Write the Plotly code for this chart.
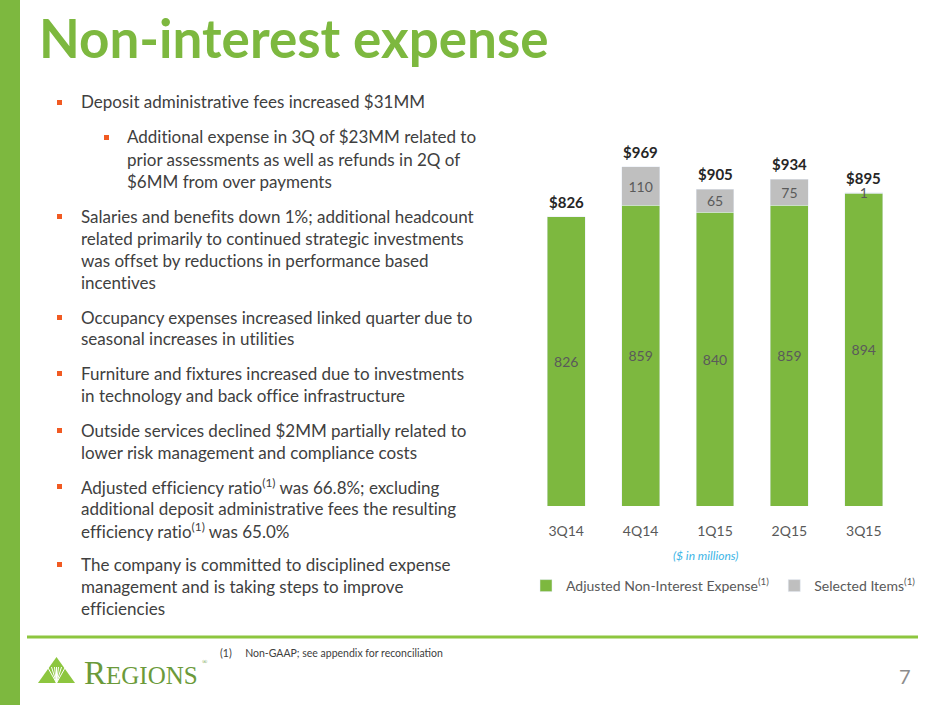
import plotly.graph_objects as go

# data
quarters = ["3Q14", "4Q14", "1Q15", "2Q15", "3Q15"]
adjusted_expense = [826, 859, 840, 859, 894]
selected_items = [None, 110, 65, 75, 1]
totals = [a + (s or 0) for a, s in zip(adjusted_expense, selected_items)]

bullets = [
    (0, ["Deposit administrative fees increased $31MM"]),
    (1, ["Additional expense in 3Q of $23MM related to",
         "prior assessments as well as refunds in 2Q of",
         "$6MM from over payments"]),
    (0, ["Salaries and benefits down 1%; additional headcount",
         "related primarily to continued strategic investments",
         "was offset by reductions in performance based",
         "incentives"]),
    (0, ["Occupancy expenses increased linked quarter due to",
         "seasonal increases in utilities"]),
    (0, ["Furniture and fixtures increased due to investments",
         "in technology and back office infrastructure"]),
    (0, ["Outside services declined $2MM partially related to",
         "lower risk management and compliance costs"]),
    (0, ["Adjusted efficiency ratio<sup>(1)</sup> was 66.8%; excluding",
         "additional deposit administrative fees the resulting",
         "efficiency ratio<sup>(1)</sup> was 65.0%"]),
    (0, ["The company is committed to disciplined expense",
         "management and is taking steps to improve",
         "efficiencies"]),
]
bullet_tops = [102, 137, 216, 317, 373, 430, 486, 564]

W, H = 940, 705
GREEN = "#7DB83F"
LIGHT_GREEN = "#8DC63F"
GRAY = "#BFBFBF"
TEXT = "#404040"
ORANGE = "#F15A22"
FONT = "Lato"
NO_LIGA = '<span style="font-variant-ligatures:none">%s</span>'


def px(x):
    return x / W


def py(y):
    return 1 - y / H


def note(x, y, text, size, color, family=FONT, xanchor="left"):
    return dict(x=px(x), y=py(y), xref="paper", yref="paper",
                xanchor=xanchor, yanchor="middle", text=text, showarrow=False,
                font=dict(family=family, size=size, color=color))


fig = go.Figure()
fig.add_trace(go.Bar(
    x=quarters, y=adjusted_expense, name="Adjusted Non-Interest Expense<sup>(1)</sup>",
    marker_color=GREEN, text=adjusted_expense, textposition="inside", textangle=0,
    insidetextanchor="middle", textfont=dict(color="#5A5A5A", size=14),
))
fig.add_trace(go.Bar(
    x=quarters, y=selected_items, name="Selected Items<sup>(1)</sup>",
    marker_color=GRAY, text=selected_items, textposition="inside", textangle=0,
    insidetextanchor="middle", textfont=dict(color="#5A5A5A", size=14),
))

annotations = [
    note(37, 38, "<b>Non-interest expense</b>", 53, GREEN),
    note(705, 555, "<i>($ in millions)</i>", 12, "#3DB5E6", xanchor="center"),
    note(218, 653, "(1)     Non-GAAP; see appendix for reconciliation", 10.5, TEXT),
    note(905, 676, "7", 20, "#8C8C8C", xanchor="center"),
    note(82, 673, '<span style="font-size:33px">R</span>EGIONS', 25, "#6B9A3A",
         family="Liberation Serif"),
    note(200, 662, "®", 7, "#6B9A3A", family="Liberation Serif"),
]

# total labels above each stacked bar
for q, t in zip(quarters, totals):
    annotations.append(dict(
        x=q, y=t, xref="x", yref="y", xanchor="center", yanchor="bottom",
        yshift=4, text="<b>$%d</b>" % t, showarrow=False,
        font=dict(family=FONT, size=15, color="#262626")))

shapes = [
    dict(type="rect", xref="paper", yref="paper", x0=0, x1=px(20), y0=0, y1=1,
         fillcolor=GREEN, line_width=0),
    dict(type="line", xref="paper", yref="paper", x0=px(27), x1=px(918),
         y0=py(637), y1=py(637), line=dict(color=LIGHT_GREEN, width=3)),
    dict(type="path", xref="paper", yref="paper",
         path="M %f %f L %f %f L %f %f Z" % (px(38), py(683), px(56.5), py(657), px(75), py(683)),
         fillcolor=LIGHT_GREEN, line_width=0),
]
# rays in the logo triangle
for dx in [-9, -5, -2, 0, 2, 5, 9]:
    shapes.append(dict(type="line", xref="paper", yref="paper",
                       x0=px(56.5), y0=py(683), x1=px(56.5 + dx), y1=py(667),
                       line=dict(color="white", width=1)))

for (level, lines), top in zip(bullets, bullet_tops):
    bx = 59.5 if level == 0 else 106.5
    tx = 79 if level == 0 else 125
    shapes.append(dict(type="rect", xref="paper", yref="paper",
                       x0=px(bx - 2.5), x1=px(bx + 2.5), y0=py(top - 2), y1=py(top + 3),
                       fillcolor=ORANGE, line_width=0))
    for i, line in enumerate(lines):
        annotations.append(note(tx, top + 22 * i, NO_LIGA % line, 17, TEXT))

fig.update_layout(
    width=W, height=H,
    margin=dict(l=0, r=0, t=0, b=0),
    paper_bgcolor="white", plot_bgcolor="white",
    barmode="stack", bargap=0.49,
    font=dict(family=FONT, color="#595959"),
    uniformtext=dict(minsize=14, mode="show"),
    xaxis=dict(domain=[px(529), px(901)], showgrid=False, showline=False,
               ticks="", ticklabelstandoff=15, tickfont=dict(size=14, color="#595959")),
    yaxis=dict(domain=[py(506), py(140)], range=[0, 366 / 0.35], visible=False),
    legend=dict(orientation="h", x=px(526), y=py(586), xanchor="left", yanchor="middle",
                font=dict(size=14, color="#595959"), itemwidth=30,
                traceorder="normal"),
    annotations=annotations,
    shapes=shapes,
)

fig.write_html("out.html", config={"displayModeBar": False},
               post_script="document.body.style.margin = '0';")
